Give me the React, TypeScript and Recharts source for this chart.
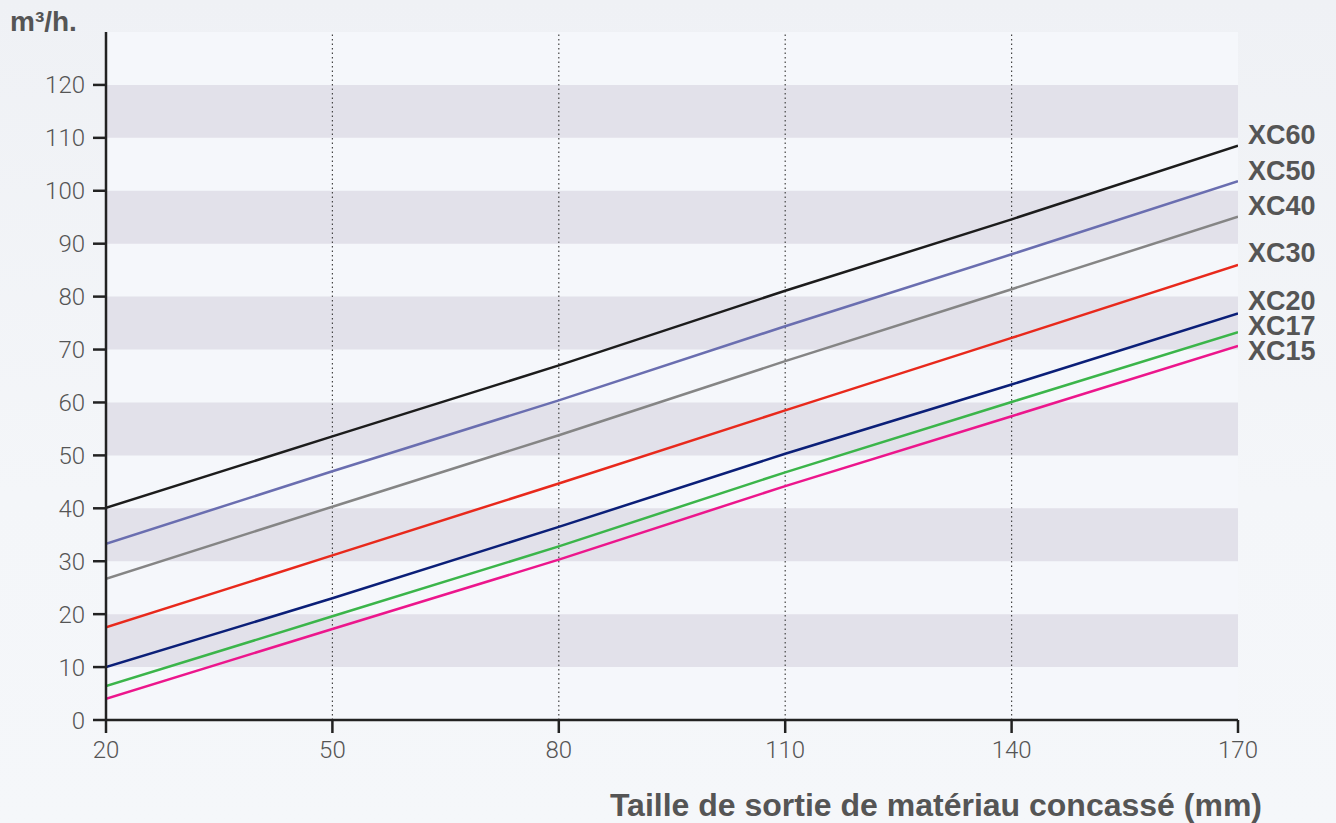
import React from "react";
import {
  LineChart,
  Line,
  XAxis,
  YAxis,
  ReferenceArea,
  ReferenceLine,
  LabelList,
  Customized,
} from "recharts";

const sizes = [20, 50, 80, 110, 140, 170];
const gridX = [50, 80, 110, 140];
const xc60 = [40.1, 53.6, 67.0, 81.1, 94.6, 108.5];
const xc50 = [33.3, 47.0, 60.4, 74.4, 88.0, 101.8];
const xc40 = [26.7, 40.3, 53.8, 67.8, 81.4, 95.1];
const xc30 = [17.5, 31.1, 44.7, 58.5, 72.2, 86.0];
const xc20 = [10.0, 23.0, 36.5, 50.3, 63.4, 76.8];
const xc17 = [6.4, 19.6, 32.8, 46.8, 60.1, 73.3];
const xc15 = [4.0, 17.2, 30.3, 44.2, 57.4, 70.7];

const yTicks = [0, 10, 20, 30, 40, 50, 60, 70, 80, 90, 100, 110, 120];
const bands = [
  [10, 20],
  [30, 40],
  [50, 60],
  [70, 80],
  [90, 100],
  [110, 120],
];

const series = [
  { key: "XC60", values: xc60, color: "#1c1c1c", dy: -12 },
  { key: "XC50", values: xc50, color: "#6a6eb0", dy: -11 },
  { key: "XC40", values: xc40, color: "#858585", dy: -11 },
  { key: "XC30", values: xc30, color: "#e8291c", dy: -13 },
  { key: "XC20", values: xc20, color: "#0b1f78", dy: -13 },
  { key: "XC17", values: xc17, color: "#3bb54a", dy: -7 },
  { key: "XC15", values: xc15, color: "#ec168c", dy: 4 },
];

const data = sizes.map((s, i) => {
  const row: Record<string, number> = { size: s };
  series.forEach((se) => {
    row[se.key] = se.values[i];
  });
  return row;
});

const TEXT = "#555555";
const BOLD_FONT = "'Liberation Sans', Arial, Helvetica, sans-serif";
const TICK_FONT = "Roboto, 'Liberation Sans', sans-serif";

const makeLabel = (name: string, dy: number) => (props: any) => {
  const { x, y, index } = props;
  if (index !== sizes.length - 1) return null;
  return (
    <text
      x={x + 10}
      y={y + dy}
      dy="0.36em"
      fill={TEXT}
      fontFamily={BOLD_FONT}
      fontWeight="bold"
      fontSize={27}
      textAnchor="start"
    >
      {name}
    </text>
  );
};

export default function App() {
  return (
    <div
      style={{
        position: "absolute",
        left: 0,
        top: 0,
        width: 1336,
        height: 823,
        background: "linear-gradient(180deg, #eff1f5 0%, #f4f6f9 60%, #f5f7fa 100%)",
        overflow: "hidden",
      }}
    >
      <LineChart
        width={1336}
        height={823}
        data={data}
        margin={{ top: 32, right: 98, bottom: 63, left: 6 }}
      >
        <ReferenceArea
          x1={20}
          x2={170}
          y1={0}
          y2={130}
          fill="#f5f7fb"
          fillOpacity={1}
          stroke="none"
        />
        {bands.map(([a, b]) => (
          <ReferenceArea
            key={a}
            x1={20}
            x2={170}
            y1={a}
            y2={b}
            fill="#e2e1ea"
            fillOpacity={1}
            stroke="none"
          />
        ))}
        {gridX.map((g) => (
          <ReferenceLine
            key={g}
            x={g}
            stroke="#444"
            strokeWidth={1.2}
            strokeDasharray="1.5 3"
          />
        ))}
        <XAxis
          dataKey="size"
          type="number"
          domain={[20, 170]}
          ticks={sizes}
          height={40}
          tickSize={13}
          tickMargin={8}
          axisLine={{ stroke: "#222", strokeWidth: 2.5 }}
          tickLine={{ stroke: "#222", strokeWidth: 2.5 }}
          tick={{ fill: TEXT, fontSize: 24, fontFamily: TICK_FONT, fontWeight: 300 }}
          allowDataOverflow
        />
        <YAxis
          type="number"
          domain={[0, 130]}
          ticks={yTicks}
          width={100}
          tickSize={13}
          tickMargin={8}
          axisLine={{ stroke: "#222", strokeWidth: 2.5 }}
          tickLine={{ stroke: "#222", strokeWidth: 2.5 }}
          tick={{ fill: TEXT, fontSize: 24, fontFamily: TICK_FONT, fontWeight: 300 }}
          allowDataOverflow
        />
        {series.map((se) => (
          <Line
            key={se.key}
            dataKey={se.key}
            type="linear"
            stroke={se.color}
            strokeWidth={2.5}
            dot={false}
            activeDot={false}
            isAnimationActive={false}
          >
            <LabelList dataKey={se.key} content={makeLabel(se.key, se.dy)} />
          </Line>
        ))}
        <Customized
          component={() => (
            <g>
              <text
                x={10}
                y={31}
                fill={TEXT}
                fontFamily={BOLD_FONT}
                fontWeight="bold"
                fontSize={28}
              >
                m³/h.
              </text>
              <text
                x={1262}
                y={816}
                textAnchor="end"
                fill={TEXT}
                fontFamily={BOLD_FONT}
                fontWeight="bold"
                fontSize={32}
              >
                Taille de sortie de matériau concassé (mm)
              </text>
            </g>
          )}
        />
      </LineChart>
    </div>
  );
}
